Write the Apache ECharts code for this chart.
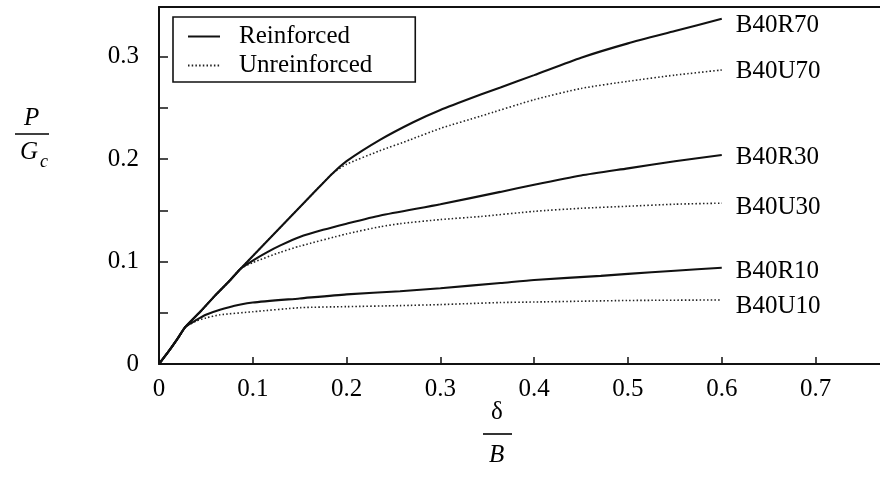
<!DOCTYPE html>
<html>
<head>
<meta charset="utf-8">
<title>Load-displacement curves</title>
<script src="https://cdn.jsdelivr.net/npm/echarts@6/dist/echarts.min.js"></script>
<style>
  html, body { margin: 0; padding: 0; background: #fff; }
  #chart { width: 880px; height: 479px; }
</style>
</head>
<body>
<div id="chart"></div>
<script>
// Normalised settlement (delta / B) against normalised load (P / Gc)
const xTicks = [0, 0.1, 0.2, 0.3, 0.4, 0.5, 0.6, 0.7];
const yTicks = [0, 0.1, 0.2, 0.3];

const b40r70 = [[0, 0], [0.01, 0.012], [0.02, 0.025], [0.028, 0.036], [0.045, 0.052], [0.06, 0.067],
  [0.075, 0.081], [0.087, 0.093], [0.11, 0.115], [0.13, 0.134], [0.15, 0.153], [0.17, 0.172],
  [0.185, 0.186], [0.2, 0.198], [0.236, 0.219], [0.271, 0.236], [0.3, 0.248], [0.343, 0.263],
  [0.364, 0.27], [0.4, 0.282], [0.45, 0.299], [0.5, 0.313], [0.55, 0.325], [0.6, 0.337]];

const b40u70 = [[0, 0], [0.01, 0.012], [0.02, 0.025], [0.028, 0.036], [0.045, 0.052], [0.06, 0.067],
  [0.075, 0.081], [0.087, 0.093], [0.11, 0.115], [0.13, 0.134], [0.15, 0.153], [0.17, 0.172],
  [0.185, 0.186], [0.2, 0.195], [0.235, 0.208], [0.268, 0.219], [0.3, 0.23], [0.343, 0.242],
  [0.4, 0.258], [0.45, 0.269], [0.5, 0.276], [0.55, 0.282], [0.6, 0.287]];

const b40r30 = [[0, 0], [0.01, 0.012], [0.02, 0.025], [0.028, 0.036], [0.045, 0.052], [0.06, 0.067],
  [0.075, 0.081], [0.087, 0.093], [0.1, 0.101], [0.115, 0.109], [0.13, 0.116], [0.15, 0.124],
  [0.175, 0.131], [0.2, 0.137], [0.236, 0.145], [0.3, 0.156], [0.364, 0.168], [0.4, 0.175],
  [0.45, 0.184], [0.5, 0.191], [0.55, 0.198], [0.6, 0.204]];

const b40u30 = [[0, 0], [0.01, 0.012], [0.02, 0.025], [0.028, 0.036], [0.045, 0.052], [0.06, 0.067],
  [0.075, 0.081], [0.087, 0.093], [0.1, 0.099], [0.129, 0.109], [0.15, 0.115], [0.2, 0.127],
  [0.236, 0.134], [0.257, 0.137], [0.3, 0.141], [0.343, 0.144], [0.4, 0.149], [0.45, 0.152],
  [0.5, 0.154], [0.55, 0.156], [0.6, 0.157]];

const b40r10 = [[0, 0], [0.01, 0.012], [0.02, 0.025], [0.028, 0.036], [0.04, 0.043], [0.05, 0.048],
  [0.065, 0.053], [0.087, 0.058], [0.1, 0.06], [0.15, 0.064], [0.2, 0.068], [0.257, 0.071],
  [0.3, 0.074], [0.364, 0.079], [0.4, 0.082], [0.471, 0.086], [0.5, 0.088], [0.55, 0.091],
  [0.6, 0.094]];

const b40u10 = [[0, 0], [0.01, 0.012], [0.02, 0.025], [0.028, 0.036], [0.04, 0.042], [0.05, 0.045],
  [0.065, 0.048], [0.1, 0.051], [0.151, 0.055], [0.2, 0.056], [0.257, 0.057], [0.3, 0.058],
  [0.364, 0.06], [0.4, 0.0605], [0.5, 0.062], [0.6, 0.0625]];

const curveNames = ['B40R70', 'B40U70', 'B40R30', 'B40U30', 'B40R10', 'B40U10'];
const curveData = [b40r70, b40u70, b40r30, b40u30, b40r10, b40u10];
const groupNames = ['Reinforced', 'Unreinforced'];

const FONT = 'Liberation Serif';
const INK = '#111';

// vertical nudge of each end label relative to the curve's last point
const labelOffsets = [7, 1, 2, 4, 4, 6];

const solidStyle = { color: INK, width: 2.1, type: 'solid' };
const dottedStyle = { color: '#222', width: 1.6, type: [1.5, 2.2] };

const series = curveNames.map((label, i) => {
  const reinforced = i % 2 === 0;
  return {
    type: 'line',
    name: reinforced ? groupNames[0] : groupNames[1],
    data: curveData[i],
    symbol: 'none',
    smooth: 0.2,
    lineStyle: reinforced ? solidStyle : dottedStyle,
    itemStyle: { color: INK },
    z: reinforced ? 3 : 2,
    endLabel: {
      show: true,
      formatter: label,
      distance: 14,
      offset: [0, labelOffsets[i]],
      color: '#000',
      fontFamily: FONT,
      fontSize: 25
    }
  };
});

const isTenth = v => Math.abs(v * 10 - Math.round(v * 10)) < 1e-6;

const chart = echarts.init(document.getElementById('chart'), null, { renderer: 'canvas' });
chart.setOption({
  animation: false,
  backgroundColor: '#fff',
  textStyle: { fontFamily: FONT },
  grid: { left: 159, top: 7, width: 721, height: 357, containLabel: false, outerBoundsMode: 'none' },
  legend: {
    data: groupNames,
    orient: 'vertical',
    left: 173,
    top: 17,
    width: 241,
    padding: [7, 43, 4, 14],
    itemGap: 4,
    itemWidth: 32,
    itemHeight: 14,
    backgroundColor: '#fff',
    borderColor: INK,
    borderWidth: 1.6,
    borderRadius: 0,
    itemStyle: { opacity: 0 },
    textStyle: { fontFamily: FONT, fontSize: 25, color: '#000', lineHeight: 25, padding: [0, 0, 0, 14] }
  },
  xAxis: [{
    type: 'value',
    min: 0,
    max: 0.7687,
    interval: 0.1,
    axisLine: { show: true, onZero: false, lineStyle: { color: INK, width: 2 } },
    axisTick: { show: true, inside: true, length: 7, lineStyle: { color: INK, width: 1.5 } },
    axisLabel: {
      showMaxLabel: false,
      margin: 13,
      color: '#000',
      fontFamily: FONT,
      fontSize: 25,
      formatter: v => xTicks.includes(Math.round(v * 10) / 10) ? String(Math.round(v * 10) / 10) : ''
    },
    splitLine: { show: false }
  }, {
    type: 'value',
    position: 'top',
    min: 0,
    max: 0.7687,
    axisLine: { show: true, onZero: false, lineStyle: { color: INK, width: 2 } },
    axisTick: { show: false },
    axisLabel: { show: false },
    splitLine: { show: false }
  }],
  yAxis: {
    type: 'value',
    min: 0,
    max: 0.3485,
    interval: 0.05,
    axisLine: { show: true, onZero: false, lineStyle: { color: INK, width: 2 } },
    axisTick: { show: true, inside: true, length: 9, lineStyle: { color: INK, width: 1.5 } },
    axisLabel: {
      showMaxLabel: false,
      margin: 20,
      color: '#000',
      fontFamily: FONT,
      fontSize: 25,
      formatter: v => (isTenth(v) && yTicks.includes(Math.round(v * 10) / 10)) ? String(Math.round(v * 10) / 10) : ''
    },
    splitLine: { show: false }
  },
  graphic: [
    // y-axis name: P over Gc
    { type: 'text', left: 24, top: 106, style: { text: 'P', font: 'italic 25px "Liberation Serif"', fill: '#000' } },
    { type: 'line', shape: { x1: 15, y1: 134, x2: 49, y2: 134 }, style: { stroke: '#000', lineWidth: 1.6 } },
    { type: 'text', left: 20, top: 140, style: { text: 'G', font: 'italic 25px "Liberation Serif"', fill: '#000' } },
    { type: 'text', left: 40, top: 153, style: { text: 'c', font: 'italic 18px "Liberation Serif"', fill: '#000' } },
    // x-axis name: delta over B
    { type: 'text', left: 491, top: 400, style: { text: 'δ', font: '25px "Liberation Serif"', fill: '#000' } },
    { type: 'line', shape: { x1: 483, y1: 434, x2: 512, y2: 434 }, style: { stroke: '#000', lineWidth: 1.6 } },
    { type: 'text', left: 489, top: 443, style: { text: 'B', font: 'italic 25px "Liberation Serif"', fill: '#000' } }
  ],
  series: series
});
</script>
</body>
</html>
